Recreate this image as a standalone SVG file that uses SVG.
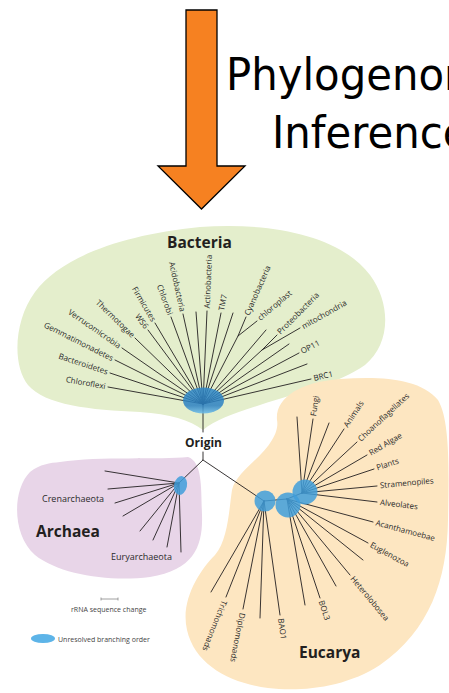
<svg xmlns="http://www.w3.org/2000/svg" width="449" height="693" viewBox="0 0 449 693">
<style>
.ln{stroke:#231f20;stroke-width:0.9;fill:none;stroke-linecap:round}
.lb{font-family:"Open Sans","Liberation Sans",sans-serif;font-size:8px;fill:#2b2b2b}
.lb9{font-family:"Open Sans","Liberation Sans",sans-serif;font-size:9px;fill:#2b2b2b}
.big{font-family:"Open Sans","Liberation Sans",sans-serif;font-weight:bold;font-size:15.5px;fill:#231f20}
.e{text-anchor:end}
.blue{fill:#3f9edb;fill-opacity:0.85}
.title{font-family:"DejaVu Sans","Liberation Sans",sans-serif;font-size:45px;fill:#000}
</style>
<defs>
<linearGradient id="bgrad" x1="0" y1="0" x2="0" y2="1">
<stop offset="0" stop-color="#2f88c8"/>
<stop offset="0.7" stop-color="#2b80c2"/>
<stop offset="1" stop-color="#6bbcea"/>
</linearGradient>
</defs>
<rect width="449" height="693" fill="#fff"/>

<g id="arrow">
<path d="M186,10 H217 V166 H245 L201.5,209 L158,166 H186 Z" fill="#f68121" stroke="#000" stroke-width="1.3" stroke-linejoin="miter"/>
</g>
<g id="title">
<text class="title" transform="translate(226,90) scale(0.93,1)">Phylogenomic</text>
<text class="title" transform="translate(272,148) scale(0.93,1)">Inference</text>
</g>

<g id="bacteria-region">
<path d="M203,430 C190,420 170,414 140,412 C90,410 45,405 28,385 C12,365 14,320 35,292 C60,258 120,235 200,227 C270,222 340,235 370,275 C392,305 390,345 365,365 C340,383 300,392 260,405 C235,413 215,420 203,430 Z" fill="#e4eecc"/>
</g>
<g id="archaea-region">
<path d="M60,462 C100,456 160,460 188,457 C203,462 201,490 202,515 C203,545 195,570 150,577 C110,582 60,575 35,555 C12,535 12,490 30,472 C40,464 50,463 60,462 Z" fill="#e8d5e8"/>
</g>
<g id="eucarya-region">
<path d="M277,420 C275,398 300,382 340,379 C380,376 420,378 438,400 C450,420 449,470 448,520 C447,580 430,630 380,665 C345,688 300,692 268,688 C230,683 195,665 187,630 C180,600 200,570 215,555 C228,540 229,510 232,490 C236,472 262,458 272,440 C277,432 278,425 277,420 Z" fill="#fde6c1"/>
</g>

<g id="connectors">
<path class="ln" d="M203,404L108,387M203,404L110,373M203,404L115,360M203,404L122,348M203,404L135,338M203,404L148,330M203,404L155,323M203,404L171,317M203,404L183,314M203,404L196,312M203,404L207,311M203,404L221,313M203,404L233,313M203,404L238,336L246,317M238,336L257,321M203,404L266,330M203,404L262,350L277,335M262,350L300,328M203,404L289,344M203,404L299,353M203,404L307,364M203,404L311,379"/>
<path class="ln" d="M203,404L203,432M203,452L203,460L179,483M203,460L264,501L287,499L302,493"/>
<path class="ln" d="M179,483L105,471M179,483L108,489M179,483L115,503M179,483L123,516M179,483L140,531M179,483L153,540M179,483L167,547M179,483L181,552"/>
<path class="ln" d="M264,501L211,592M264,501L226,597M264,501L243,609M264,501L260,618M264,501L280,615"/>
<path class="ln" d="M287,499L305,605M287,499L320,598M287,499L336,586M287,499L350,575M287,499L363,560M287,499L368,543M287,499L373,522"/>
<path class="ln" d="M302,493L297,417M302,493L313,419M302,493L329,423M302,493L344,429M302,493L357,442M302,493L367,455M302,493L374,469M302,493L377,486M302,493L377,502"/>
</g>

<g id="unresolved">
<ellipse cx="203.5" cy="400.5" rx="20.5" ry="13" fill="url(#bgrad)" fill-opacity="0.85"/>
<ellipse cx="180.5" cy="485.5" rx="6.5" ry="9.5" transform="rotate(12 180.5 485.5)" class="blue"/>
<circle cx="265" cy="501" r="10.5" class="blue"/>
<circle cx="288" cy="505" r="12.5" class="blue"/>
<circle cx="305" cy="492" r="12.5" class="blue"/>
</g>

<g id="bacteria-labels">
<text class="big" x="167" y="248">Bacteria</text>
<text class="lb e" transform="translate(105.5,386.6) rotate(10.1)" dy="0.32em">Chloroflexi</text>
<text class="lb e" transform="translate(107.6,372.2) rotate(18.4)" dy="0.32em">Bacteroidetes</text>
<text class="lb e" transform="translate(112.8,358.9) rotate(26.6)" dy="0.32em">Gemmatimonadetes</text>
<text class="lb e" transform="translate(119.9,346.6) rotate(34.7)" dy="0.32em">Verrucomicrobia</text>
<text class="lb e" transform="translate(133.2,336.3) rotate(44.1)" dy="0.32em">Thermotogae</text>
<text class="lb e" transform="translate(146.5,328) rotate(53.4)" dy="0.32em">WS6</text>
<text class="lb e" transform="translate(153.7,320.9) rotate(59.4)" dy="0.32em">Firmicutes</text>
<text class="lb e" transform="translate(170.1,314.7) rotate(69.8)" dy="0.32em">Chlorobi</text>
<text class="lb e" transform="translate(182.5,311.6) rotate(77.5)" dy="0.32em">Acidobacteria</text>
<text class="lb" transform="translate(207.1,308.5) rotate(-87.5)" dy="0.32em">Actinobacteria</text>
<text class="lb" transform="translate(221.5,310.5) rotate(-78.8)" dy="0.32em">TM7</text>
<text class="lb" transform="translate(246.8,315) rotate(-66)" dy="0.32em">Cyanobacteria</text>
<text class="lb" transform="translate(258.8,319) rotate(-40)" dy="0.32em">chloroplast</text>
<text class="lb" transform="translate(278.7,333) rotate(-45)" dy="0.32em">Proteobacteria</text>
<text class="lb" transform="translate(302.4,327) rotate(-29.5)" dy="0.32em">mitochondria</text>
<text class="lb" transform="translate(301.4,351.8) rotate(-28)" dy="0.32em">OP11</text>
<text class="lb" transform="translate(313.6,378.4) rotate(-13)" dy="0.32em">BRC1</text>
</g>

<g id="origin">
<text x="203.5" y="447" text-anchor="middle" style="font-family:'Open Sans','Liberation Sans',sans-serif;font-weight:bold;font-size:12px;fill:#231f20">Origin</text>
</g>

<g id="archaea-labels">
<text class="big" x="36" y="537">Archaea</text>
<text class="lb9" x="42" y="502">Crenarchaeota</text>
<text class="lb9" x="111" y="560">Euryarchaeota</text>
</g>

<g id="eucarya-labels">
<text class="big" x="299" y="658">Eucarya</text>
<text class="lb" transform="translate(313.4,416) rotate(-81.5)" dy="0.32em">Fungi</text>
<text class="lb" transform="translate(345.6,426.5) rotate(-56.7)" dy="0.32em">Animals</text>
<text class="lb" transform="translate(359.2,440) rotate(-42.8)" dy="0.32em">Choanoflagellates</text>
<text class="lb" transform="translate(369.6,453.5) rotate(-30.3)" dy="0.32em">Red Algae</text>
<text class="lb" transform="translate(376.8,468) rotate(-18.4)" dy="0.32em">Plants</text>
<text class="lb" transform="translate(380,485.7) rotate(-5.3)" dy="0.32em">Stramenopiles</text>
<text class="lb" transform="translate(380,502.4) rotate(6.8)" dy="0.32em">Alveolates</text>
<text class="lb" transform="translate(375.9,522.8) rotate(15)" dy="0.32em">Acanthamoebae</text>
<text class="lb" transform="translate(370.6,544.4) rotate(28.5)" dy="0.32em">Euglenozoa</text>
<text class="lb" transform="translate(352,577.3) rotate(50.3)" dy="0.32em">Heterolobosea</text>
<text class="lb" transform="translate(321,600.8) rotate(71.6)" dy="0.32em">BOL3</text>
<text class="lb" transform="translate(280.5,618.5) rotate(82)" dy="0.32em">BAO1</text>
<text class="lb" transform="translate(242.2,613) rotate(101)" dy="0.32em">Diplomonads</text>
<text class="lb" transform="translate(224.5,600.7) rotate(111.6)" dy="0.32em">Trichomonads</text>
</g>

<g id="legend">
<path d="M101,599H118M101,597.5V600.5M118,597.5V600.5" stroke="#888" stroke-width="0.8" fill="none"/>
<text x="71" y="612" style="font-family:'Open Sans','Liberation Sans',sans-serif;font-size:7px;fill:#444">rRNA sequence change</text>
<ellipse cx="43" cy="638.5" rx="12" ry="4.5" fill="#5db4e8"/>
<text x="58" y="641.5" style="font-family:'Open Sans','Liberation Sans',sans-serif;font-size:7px;fill:#444">Unresolved branching order</text>
</g>
</svg>
